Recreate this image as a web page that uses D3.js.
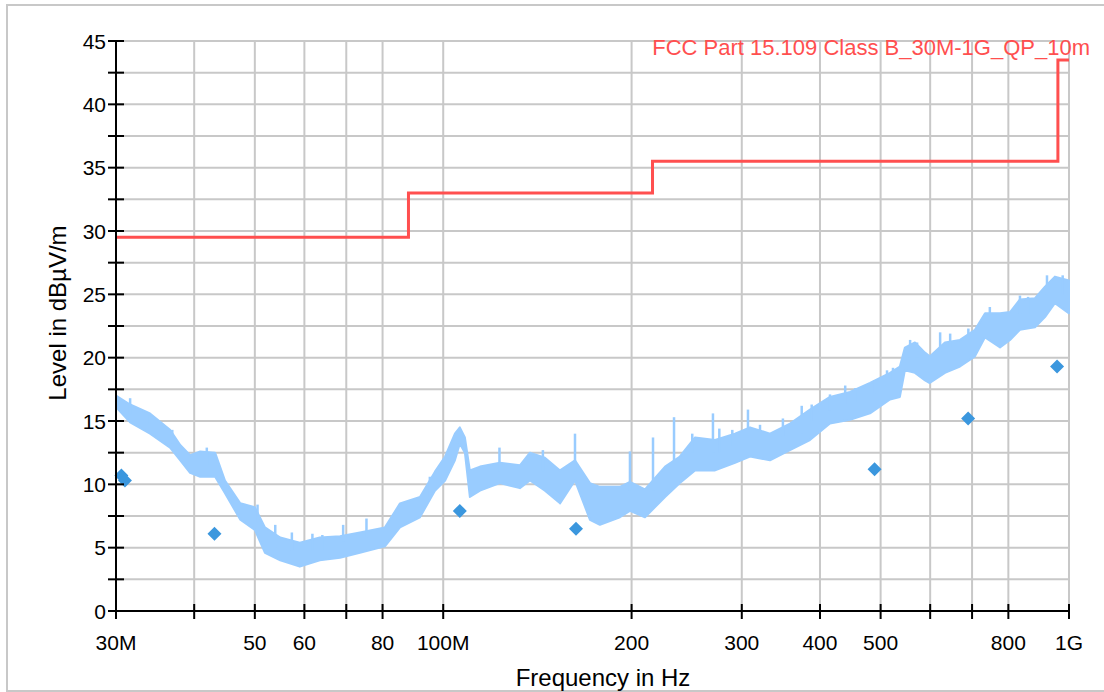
<!DOCTYPE html>
<html>
<head>
<meta charset="utf-8">
<script src="https://cdn.jsdelivr.net/npm/d3@7/dist/d3.min.js"></script>
<style>
  html, body { margin: 0; padding: 0; background: #fff; }
  svg { display: block; font-family: "Liberation Sans", Arial, sans-serif; }
</style>
</head>
<body>
<div id="chart"></div>
<script>
// Limit line: FCC Part 15.109 Class B, 30M-1G, QP, 10m (MHz, dBµV/m)
const limitFreq = [30, 88, 216, 960, 1000];
const limitLevel = [29.5, 33.0, 35.5, 43.5, 43.5];

// Preview scan trace, read as upper/lower envelope of the noisy band (MHz, dBµV/m)
const traceFreq = [30.0, 31.6, 34.0, 36.6, 38.0, 39.4, 40.9, 43.2, 44.8, 47.4, 50.0, 51.9,
  54.9, 59.0, 63.5, 68.4, 73.6, 80.7, 85.3, 91.8, 97.0, 100.7, 104.4, 106.3, 108.3, 110.3,
  114.5, 123.2, 132.6, 137.6, 145.4, 153.7, 162.4, 171.6, 178.0, 191.6, 198.8, 210.1, 226.2,
  238.9, 252.6, 271.9, 292.6, 309.2, 332.8, 358.2, 385.5, 415.0, 446.7, 480.8, 517.6, 536.7,
  546.7, 567.3, 588.7, 599.0, 633.5, 669.6, 707.5, 734.2, 775.9, 805.0, 834.9, 882.4, 915.4,
  949.5, 1000];
const traceUpper = [17.0, 16.3, 15.6, 14.3, 13.1, 12.3, 12.6, 12.5, 10.3, 8.5, 8.2, 6.6,
  5.8, 5.4, 5.8, 5.9, 6.2, 6.6, 8.5, 9.0, 11.0, 12.2, 14.0, 14.5, 13.7, 11.1,
  11.4, 11.7, 11.5, 12.5, 12.1, 11.1, 11.9, 10.1, 9.8, 9.8, 10.2, 9.6, 11.4,
  12.2, 13.7, 13.5, 14.0, 14.5, 14.0, 14.8, 15.9, 16.9, 17.3, 18.0, 18.8, 19.3,
  20.8, 21.2, 20.4, 20.1, 21.2, 21.4, 22.2, 23.5, 23.5, 23.6, 24.6, 24.7, 25.6,
  26.4, 26.1];
const traceLower = [16.1, 14.9, 14.0, 12.9, 11.9, 10.9, 10.6, 10.6, 9.3, 7.2, 6.4, 4.6,
  4.0, 3.5, 4.0, 4.2, 4.6, 5.1, 6.6, 7.4, 9.5, 10.3, 11.9, 13.2, 12.5, 9.0,
  9.5, 10.1, 9.7, 10.3, 9.5, 8.5, 10.3, 7.2, 6.8, 7.4, 7.9, 7.4, 9.0,
  10.1, 11.1, 11.1, 11.7, 12.2, 11.9, 12.7, 13.5, 14.8, 15.1, 15.6, 16.7, 16.9,
  19.0, 18.8, 18.2, 18.0, 18.8, 19.3, 20.1, 21.6, 20.8, 21.4, 22.2, 22.4, 23.2,
  24.3, 23.5];

// Narrow spikes standing out of the band (MHz, peak and foot in dBµV/m)
const spikeFreq = [31.6, 33.7, 36.9, 41.9, 50.5, 53.9, 57.3, 61.8, 64.1, 69.2, 75.4, 95.2,
  123.0, 144.3, 162.4, 198.8, 216.4, 233.8, 250.0, 269.8, 276.2, 289.7, 306.9, 320.8, 349.0,
  374.0, 388.0, 415.0, 438.9, 455.5, 472.7, 489.0, 511.9, 523.3, 557.3, 571.8, 622.4, 645.8,
  690.5, 747.3, 834.9, 860.2, 922.2, 977.0];
const spikePeak = [16.8, 15.7, 14.3, 12.9, 8.4, 6.8, 6.2, 6.1, 6.0, 6.8, 7.3, 10.6,
  12.9, 12.7, 14.0, 12.6, 13.7, 15.3, 14.0, 15.6, 14.4, 14.3, 15.9, 14.7, 15.2,
  16.2, 16.3, 17.1, 17.8, 17.6, 17.6, 18.2, 19.0, 19.2, 21.4, 21.2, 22.0, 21.9,
  22.3, 24.0, 24.9, 24.8, 26.5, 26.5];
const spikeBase = [15.5, 14.8, 13.2, 11.5, 7.0, 5.0, 4.8, 4.8, 4.8, 5.5, 5.8, 9.0,
  11.0, 11.0, 11.0, 9.5, 9.5, 10.5, 12.5, 12.5, 12.5, 13.0, 13.0, 13.5, 13.8,
  14.0, 15.0, 15.8, 16.3, 16.5, 16.8, 17.2, 17.8, 18.3, 20.0, 20.0, 20.5, 20.8,
  21.0, 22.5, 23.5, 23.5, 25.0, 25.0];

// Final QP measurements
const qpFreq = [30.6, 31.0, 43.1, 106.3, 163.0, 489.0, 690.0, 957.0];
const qpLevel = [10.7, 10.3, 6.1, 7.9, 6.5, 11.2, 15.2, 19.3];

// Axis ticks
const xTicks = [30, 40, 50, 60, 70, 80, 100, 200, 300, 400, 500, 600, 700, 800, 1000];
const xTickLabels = { 30: '30M', 50: '50', 60: '60', 80: '80', 100: '100M', 200: '200',
  300: '300', 400: '400', 500: '500', 800: '800', 1000: '1G' };
const yTicks = d3.range(0, 45.01, 2.5);

(function () {
  const W = 1104, H = 692;
  const pl = 116, pr = 1069, pt = 41, pb = 611;
  const TRACE = '#99ccff';

  const svg = d3.select('#chart').append('svg').attr('width', W).attr('height', H);

  svg.append('rect')
    .attr('x', 7).attr('y', 5).attr('width', W).attr('height', H - 6)
    .attr('fill', 'none').attr('stroke', '#c8c8c8').attr('stroke-width', 2);

  const x = d3.scaleLog().domain([30, 1000]).range([pl, pr]);
  const y = d3.scaleLinear().domain([0, 45]).range([pb, pt]);

  // grid
  const grid = svg.append('g').attr('stroke', '#c8c8c8').attr('stroke-width', 2);
  grid.selectAll('line.h').data(yTicks).join('line').attr('class', 'h')
    .attr('x1', pl).attr('x2', pr).attr('y1', (d) => y(d)).attr('y2', (d) => y(d));
  grid.selectAll('line.v').data(xTicks.slice(1)).join('line').attr('class', 'v')
    .attr('x1', (d) => x(d)).attr('x2', (d) => x(d)).attr('y1', pt).attr('y2', pb);

  // trace band
  const zipped = traceFreq.map((f, i) => ({ f, hi: traceUpper[i], lo: traceLower[i] }));
  const area = d3.area()
    .x((d) => x(d.f))
    .y0((d) => y(d.lo))
    .y1((d) => y(d.hi));
  svg.append('path').datum(zipped)
    .attr('d', area)
    .attr('fill', TRACE)
    .attr('stroke', TRACE)
    .attr('stroke-width', 2)
    .attr('stroke-linejoin', 'round');

  svg.append('g').selectAll('line').data(spikeFreq).join('line')
    .attr('x1', (d) => x(d)).attr('x2', (d) => x(d))
    .attr('y1', (d, i) => y(spikePeak[i])).attr('y2', (d, i) => y(spikeBase[i]))
    .attr('stroke', TRACE).attr('stroke-width', 2.5);

  // limit line
  const limitLine = d3.line().x((d) => x(d[0])).y((d) => y(d[1])).curve(d3.curveStepAfter);
  svg.append('path').datum(limitFreq.map((f, i) => [f, limitLevel[i]]))
    .attr('d', limitLine)
    .attr('fill', 'none').attr('stroke', '#ff4f4f').attr('stroke-width', 3);

  svg.append('text')
    .attr('x', 1090).attr('y', 55).attr('text-anchor', 'end')
    .attr('font-size', 22).attr('fill', '#ff4f4f')
    .text('FCC Part 15.109 Class B_30M-1G_QP_10m');

  // QP markers
  svg.append('g').selectAll('path').data(qpFreq).join('path')
    .attr('d', d3.symbol().type(d3.symbolSquare).size(98))
    .attr('transform', (d, i) => `translate(${x(d)},${y(qpLevel[i])}) rotate(45)`)
    .attr('fill', '#3b97de');

  // axes
  const yAxis = svg.append('g');
  yAxis.append('line').attr('x1', pl).attr('x2', pl).attr('y1', pt).attr('y2', pb)
    .attr('stroke', '#000').attr('stroke-width', 2);
  yAxis.selectAll('line.t').data(yTicks).join('line').attr('class', 't')
    .attr('x1', pl - 8).attr('x2', pl + 8)
    .attr('y1', (d) => y(d)).attr('y2', (d) => y(d))
    .attr('stroke', '#000').attr('stroke-width', 2);
  yAxis.selectAll('text').data(yTicks.filter((d) => d % 5 === 0)).join('text')
    .attr('x', pl - 10).attr('y', (d) => y(d) + 7.5)
    .attr('text-anchor', 'end').attr('font-size', 21).attr('fill', '#000')
    .text((d) => d);

  const xAxis = svg.append('g');
  xAxis.append('line').attr('x1', pl).attr('x2', pr).attr('y1', pb).attr('y2', pb)
    .attr('stroke', '#000').attr('stroke-width', 2);
  xAxis.selectAll('line.t').data(xTicks).join('line').attr('class', 't')
    .attr('x1', (d) => x(d)).attr('x2', (d) => x(d))
    .attr('y1', pb - 7).attr('y2', pb + 8)
    .attr('stroke', '#000').attr('stroke-width', 2);
  xAxis.selectAll('text').data(xTicks.filter((d) => xTickLabels[d])).join('text')
    .attr('x', (d) => x(d)).attr('y', 650)
    .attr('text-anchor', 'middle').attr('font-size', 21).attr('fill', '#000')
    .text((d) => xTickLabels[d]);

  svg.append('text')
    .attr('x', 603).attr('y', 686).attr('text-anchor', 'middle')
    .attr('font-size', 24).attr('fill', '#000')
    .text('Frequency in Hz');

  svg.append('text')
    .attr('transform', 'translate(66,313) rotate(-90)')
    .attr('text-anchor', 'middle')
    .attr('font-size', 24).attr('fill', '#000')
    .text('Level in dBµV/m');
})();
</script>
</body>
</html>
